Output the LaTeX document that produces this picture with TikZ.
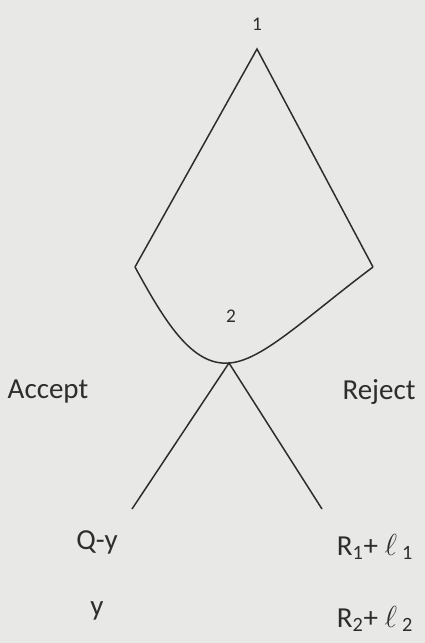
\documentclass[tikz,border=0pt]{standalone}
\usepackage{fontspec}
\setmainfont{Carlito}
\definecolor{paper}{RGB}{232,232,230}
\definecolor{ink}{RGB}{45,45,45}
\tikzset{gametree/.style={x=0.02cm,y=-0.02cm,line width=0.8pt,draw=ink},
  branch/.style={draw=ink,line width=0.85pt},
  move/.style={font=\fontsize{11}{13}\selectfont,text=ink,inner sep=0pt},
  pay/.style={font=\fontsize{16.5}{20}\selectfont,text=ink,inner sep=0pt}}

\begin{document}
\begin{tikzpicture}[gametree]
    \fill[paper] (0,0) rectangle (425,643);
    \useasboundingbox (0,0) rectangle (425,643);
    % decision points
    \coordinate (n1) at (257,49);
    \coordinate (aL) at (135,267);
    \coordinate (aR) at (373,267);
    \coordinate (n2) at (229,363);
    \coordinate (tL) at (132,509);
    \coordinate (tR) at (322,509);
    \node[move] (l1) at (257,24) {1};
    \node[move] (l2) at (231,316) {2};
    % first mover
    \draw[branch,line join=miter] (aL) -- (n1) -- (aR);
    \draw[branch] (aL) .. controls (165,322) and (192,366) .. (n2);
    \draw[branch] (n2) .. controls (262,361) and (305,318) .. (aR);
    % second mover
    \draw[branch] (tL) -- (n2) -- (tR);
    \node[pay] (acc) at (48,392) {Accept};
    \node[pay] (rej) at (379,392) {Reject};
    \node[pay] (qy) at (97,542) {Q-y};
    \node[pay] (y) at (97,611) {y};
    \node[pay] (r1) at (375,547) {R\textsubscript{1}+ $\ell$\,\textsubscript{1}};
    \node[pay] (r2) at (375,619) {R\textsubscript{2}+ $\ell$\,\textsubscript{2}};
\end{tikzpicture}
\end{document}
